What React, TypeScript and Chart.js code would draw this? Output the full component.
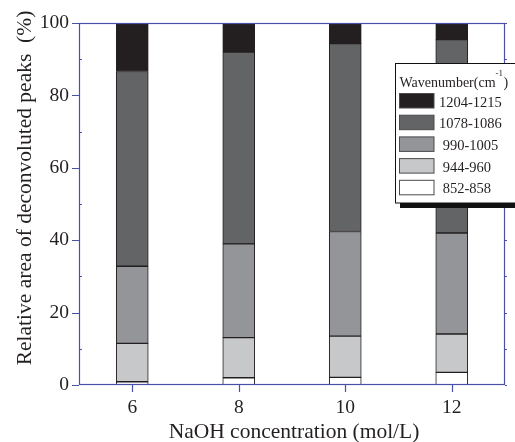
import React, { useEffect, useRef } from "react";
import { Chart, registerables } from "chart.js";

Chart.register(...registerables);

const categories = ["6", "8", "10", "12"];
const seriesLabels = [" 852-858", " 944-960", " 990-1005", "1078-1086", "1204-1215"];
const s852 = [0.9, 2.0, 2.1, 3.5];
const s944 = [10.6, 11.1, 11.4, 10.6];
const s990 = [21.3, 25.9, 28.9, 27.9];
const s1078 = [53.8, 53.0, 51.9, 53.4];
const s1204 = [13.4, 8.0, 5.7, 4.6];
const seriesValues = [s852, s944, s990, s1078, s1204];
const seriesColors = ["#ffffff", "#c7c8ca", "#939598", "#636466", "#231f20"];
const yTicks = [0, 20, 40, 60, 80, 100];
const yMinorTicks = [10, 30, 50, 70, 90];
const xTitle = "NaOH concentration (mol/L)";
const yTitle = "Relative area of deconvoluted peaks  (%)";

const SERIF = "'Liberation Serif', 'Times New Roman', serif";
const AXIS_BLUE = "#4a4fa8";

const framePlugin = {
  id: "frame",
  afterDatasetsDraw(chart: any) {
    const { ctx, chartArea } = chart;
    const { left, right, top, bottom } = chartArea;
    const y = chart.scales.y;
    const x = chart.scales.x;
    ctx.save();
    ctx.strokeStyle = AXIS_BLUE;
    ctx.lineWidth = 1.2;
    ctx.strokeRect(left + 0.5, top + 0.5, right - left - 1, bottom - top - 1);
    ctx.beginPath();
    yTicks.forEach((v) => {
      const py = Math.round(y.getPixelForValue(v)) + 0.5;
      ctx.moveTo(left - 7, py);
      ctx.lineTo(left, py);
      ctx.moveTo(right, py);
      ctx.lineTo(right + 2, py);
    });
    yMinorTicks.forEach((v) => {
      const py = Math.round(y.getPixelForValue(v)) + 0.5;
      ctx.moveTo(left, py);
      ctx.lineTo(left + 3, py);
      ctx.moveTo(right, py);
      ctx.lineTo(right + 2, py);
    });
    categories.forEach((_, i) => {
      const px = Math.round(x.getPixelForValue(i)) + 0.5;
      ctx.moveTo(px, bottom);
      ctx.lineTo(px, bottom + 7);
    });
    ctx.stroke();

    // axis titles
    ctx.fillStyle = "#231f20";
    ctx.textAlign = "center";
    ctx.textBaseline = "middle";
    ctx.font = `21.5px ${SERIF}`;
    ctx.fillText(xTitle, 294, 432);
    ctx.translate(25, 188);
    ctx.rotate(-Math.PI / 2);
    ctx.fillText(yTitle, 0, 0);
    ctx.restore();
  },
};

const legendPlugin = {
  id: "customLegend",
  afterDraw(chart: any) {
    const { ctx } = chart;
    const bx = 395.5;
    const by = 63.5;
    const bw = 140;
    const bh = 139.5;
    ctx.save();
    ctx.fillStyle = "#111111";
    ctx.fillRect(400, by + bh, 140, 5);
    ctx.fillStyle = "#ffffff";
    ctx.fillRect(bx, by, bw, bh);
    ctx.strokeStyle = "#111111";
    ctx.lineWidth = 1;
    ctx.strokeRect(bx, by, bw, bh);

    ctx.fillStyle = "#231f20";
    ctx.textBaseline = "alphabetic";
    ctx.textAlign = "left";
    ctx.font = `14px ${SERIF}`;
    const t1 = "Wavenumber(cm";
    ctx.fillText(t1, 399.5, 87);
    let tx = 399.5 + ctx.measureText(t1).width;
    ctx.font = `9px ${SERIF}`;
    ctx.fillText("-1", tx, 76);
    tx += ctx.measureText("-1").width + 0.5;
    ctx.font = `14px ${SERIF}`;
    ctx.fillText(")", tx, 87);

    const ds = chart.data.datasets;
    const order = [4, 3, 2, 1, 0];
    order.forEach((di, row) => {
      const d = ds[di];
      const sy = 93.5 + row * 21.7;
      ctx.fillStyle = d.backgroundColor;
      ctx.fillRect(399.5, sy, 34.5, 14.5);
      ctx.strokeStyle = "#4a4a4c";
      ctx.lineWidth = 1;
      ctx.strokeRect(399.5, sy, 34.5, 14.5);
      ctx.fillStyle = "#231f20";
      ctx.font = `14.5px ${SERIF}`;
      ctx.fillText(d.label, 439, sy + 13);
    });
    ctx.restore();
  },
};

export default function App() {
  const ref = useRef<HTMLCanvasElement>(null);
  useEffect(() => {
    document.body.style.margin = "0";
    const canvas = ref.current;
    if (!canvas) return;
    const chart = new Chart(canvas, {
      type: "bar",
      data: {
        labels: categories,
        datasets: seriesValues.map((vals, i) => ({
          label: seriesLabels[i],
          data: vals,
          backgroundColor: seriesColors[i],
          borderColor: "#231f20",
          borderWidth: 1,
          borderSkipped: false,
          barThickness: 32,
        })),
      },
      options: {
        responsive: false,
        animation: false,
        devicePixelRatio: 1,
        layout: { padding: { top: 23, right: 10, left: 0, bottom: 0 } },
        plugins: {
          legend: { display: false },
          tooltip: { enabled: false },
        },
        scales: {
          x: {
            stacked: true,
            offset: true,
            grid: { display: false, drawTicks: false },
            border: { display: false },
            ticks: {
              color: "#231f20",
              font: { family: SERIF, size: 19.5 },
              padding: 11,
              maxRotation: 0,
            },
            afterFit: (s: any) => {
              s.height = 57;
            },
          },
          y: {
            stacked: true,
            min: 0,
            max: 100,
            grid: { display: false, drawTicks: false },
            border: { display: false },
            ticks: {
              stepSize: 20,
              color: "#231f20",
              font: { family: SERIF, size: 19.5 },
              padding: 10,
            },
            afterFit: (s: any) => {
              s.width = 79;
            },
          },
        },
      },
      plugins: [framePlugin, legendPlugin],
    });
    return () => chart.destroy();
  }, []);
  return (
    <div style={{ width: 515, height: 442 }}>
      <canvas ref={ref} width={515} height={442} />
    </div>
  );
}
